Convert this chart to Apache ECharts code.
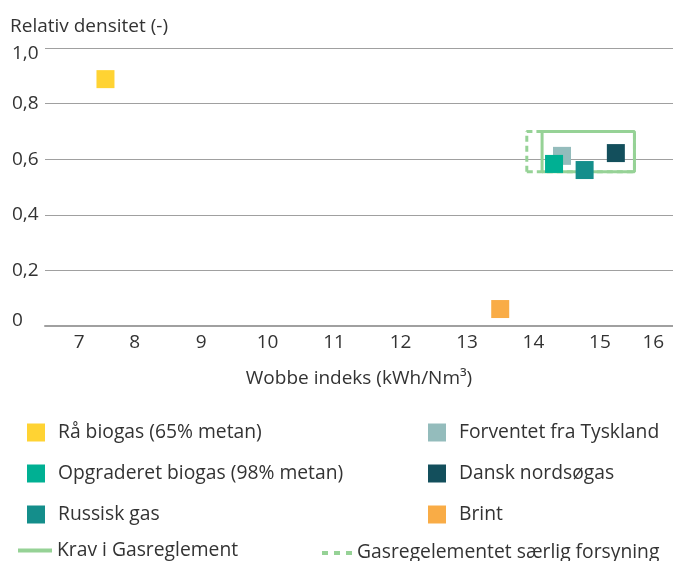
<!DOCTYPE html>
<html><head><meta charset="utf-8">
<script src="https://cdn.jsdelivr.net/npm/echarts@6/dist/echarts.min.js"></script>
<style>html,body{margin:0;padding:0;background:#fff}#c{width:673px;height:561px}</style>
</head><body><div id="c"></div>
<script>
// ---- data ----
const xTickValues = [7, 8, 9, 10, 11, 12, 13, 14, 15, 16];
const yTickLabels = ['0', '0,2', '0,4', '0,6', '0,8', '1,0'];
const nameRa = 'Rå biogas (65% metan)';
const nameTysk = 'Forventet fra Tyskland';
const nameOpg = 'Opgraderet biogas (98% metan)';
const nameDansk = 'Dansk nordsøgas';
const nameRus = 'Russisk gas';
const nameBrint = 'Brint';
const nameKrav = 'Krav i Gasreglement';
const nameSaerlig = 'Gasregelementet særlig forsyning';
const raBiogas = [[7.56, 0.888]];
const tyskland = [[14.43, 0.612]];
const opgraderet = [[14.31, 0.583]];
const dansk = [[15.24, 0.622]];
const russisk = [[14.77, 0.561]];
const brint = [[13.50, 0.061]];
const kravWobbe = [14.13, 15.52];
const kravDensity = [0.555, 0.70];
const saerligWobbe = [13.90, 15.52];
const saerligDensity = [0.555, 0.70];

function rectPath(xs, ys) {
  return [[xs[0], ys[0]], [xs[1], ys[0]], [xs[1], ys[1]], [xs[0], ys[1]], [xs[0], ys[0]]];
}

const FONT = "'Open Sans', sans-serif";
const TXT = '#333333';
const GREEN = '#96d296';

function sq(name, data, color) {
  return { name, type: 'scatter', data, symbol: 'rect', symbolSize: 18, z: 3,
    itemStyle: { color, opacity: 1 }, emphasis: { disabled: true } };
}

const chart = echarts.init(document.getElementById('c'), null, { renderer: 'canvas' });
chart.setOption({
  animation: false,
  backgroundColor: '#ffffff',
  textStyle: { fontFamily: FONT },
  title: { text: 'Relativ densitet (-)', left: 10, top: 17, padding: 0,
    textStyle: { fontFamily: FONT, fontSize: 19, fontWeight: 'normal', color: TXT } },
  grid: { left: 45, top: 48, width: 637, height: 278, containLabel: false },
  xAxis: {
    type: 'value', min: 6.65, max: 16.1,
    name: 'Wobbe indeks (kWh/Nm³)', nameLocation: 'middle', nameGap: 43,
    nameTextStyle: { fontFamily: FONT, fontSize: 19, color: TXT },
    axisLine: { show: true, lineStyle: { color: '#a0a0a0', width: 2 } },
    axisTick: { show: false },
    splitLine: { show: false },
    axisLabel: {
      customValues: xTickValues, margin: 7, fontFamily: FONT, fontSize: 19, color: TXT,
      formatter: function (v) {
        if (v === 7) return '{a|7}';
        if (v === 16) return '{b|16}';
        return String(v);
      },
      rich: {
        a: { fontFamily: FONT, fontSize: 19, color: TXT, padding: [0, 0, 0, 22] },
        b: { fontFamily: FONT, fontSize: 19, color: TXT, padding: [0, 26, 0, 0] }
      }
    }
  },
  yAxis: {
    type: 'value', min: 0, max: 1, interval: 0.2,
    axisLine: { show: false }, axisTick: { show: false },
    splitLine: { show: true, lineStyle: { color: '#a0a0a0', width: 1 } },
    axisLabel: {
      align: 'left', margin: 33, fontFamily: FONT, fontSize: 19, color: TXT,
      formatter: function (v) {
        const i = Math.round(v / 0.2);
        if (i === 0) return '{lo|' + yTickLabels[0] + '}';
        if (i === 5) return '{hi|' + yTickLabels[5] + '}';
        return yTickLabels[i];
      },
      rich: {
        lo: { fontFamily: FONT, fontSize: 19, color: TXT, padding: [0, 0, 10, 0] },
        hi: { fontFamily: FONT, fontSize: 19, color: TXT, padding: [12, 0, 0, 0] }
      }
    }
  },
  legend: [
    { left: 27, top: 423, padding: 0, orient: 'vertical', itemWidth: 18, itemHeight: 18, itemGap: 22,
      icon: 'rect', selectedMode: false,
      textStyle: { fontFamily: FONT, fontSize: 19.3, color: TXT, padding: [0, 0, 0, 8] },
      data: [nameRa, nameOpg, nameRus] },
    { left: 428, top: 423, padding: 0, orient: 'vertical', itemWidth: 18, itemHeight: 18, itemGap: 22,
      icon: 'rect', selectedMode: false,
      textStyle: { fontFamily: FONT, fontSize: 19.3, color: TXT, padding: [0, 0, 0, 8] },
      data: [nameTysk, nameDansk, nameBrint] },
    { left: 18, top: 541, padding: 0, itemWidth: 34, itemHeight: 24, selectedMode: false,
      icon: 'path://M0,10H34V14H0Z', itemStyle: { borderWidth: 0 },
      textStyle: { fontFamily: FONT, fontSize: 19.3, color: TXT },
      data: [nameKrav] },
    { left: 322, top: 541, padding: 0, itemWidth: 30, itemHeight: 24, selectedMode: false,
      icon: 'path://M0,10H6V14H0Z M12,10H18V14H12Z M24,10H30V14H24Z M0,0Z M0,24Z', itemStyle: { borderWidth: 0 },
      textStyle: { fontFamily: FONT, fontSize: 19.3, color: TXT },
      data: [nameSaerlig] }
  ],
  series: [
    { name: nameSaerlig, type: 'line', data: rectPath(saerligWobbe, saerligDensity), symbol: 'none', z: 1,
      itemStyle: { color: GREEN }, lineStyle: { color: GREEN, width: 3, type: [6, 4] }, emphasis: { disabled: true } },
    { name: nameKrav, type: 'line', data: rectPath(kravWobbe, kravDensity), symbol: 'none', z: 2,
      itemStyle: { color: GREEN }, lineStyle: { color: GREEN, width: 3 }, emphasis: { disabled: true } },
    sq(nameRa, raBiogas, '#ffd333'),
    sq(nameTysk, tyskland, '#94bcbc'),
    sq(nameOpg, opgraderet, '#00b093'),
    sq(nameDansk, dansk, '#134f5c'),
    sq(nameRus, russisk, '#148e8b'),
    sq(nameBrint, brint, '#f9ac46')
  ]
});
</script></body></html>
